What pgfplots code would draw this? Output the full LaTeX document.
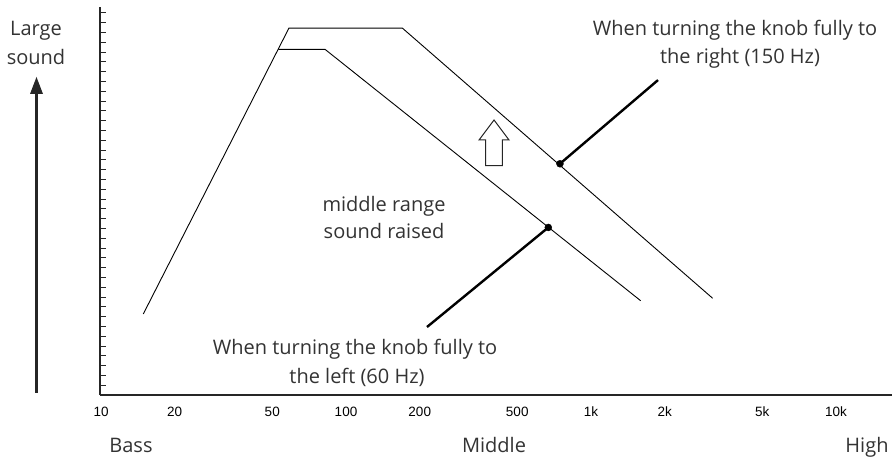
\documentclass[border=0pt]{standalone}
\usepackage{pgfplots}
\pgfplotsset{compat=1.18}
\usepackage{fontspec}
\setmainfont{Open Sans}
\newfontfamily\tickfamily{Liberation Sans}
\newcommand\tf{\fontsize{20}{24}\selectfont\color{black!80}}
\newcommand\tk{\tickfamily\fontsize{13.5}{16}\selectfont}
% place one line of text: centre x, baseline y (pixels from top)
\newcommand\lbl[3]{\node[anchor=base, inner sep=0pt, font=\tf] at (#1,464-#2) {#3};}
\begin{document}
\begin{tikzpicture}
\path[use as bounding box] (0pt,0pt) rectangle (895pt,464pt);
\begin{axis}[
    at={(100pt,69pt)}, anchor=south west,
    scale only axis, width=792pt, height=388pt,
    xmode=log, xmin=9.906, xmax=16930,
    ymin=0, ymax=39.6,
    axis x line=bottom, axis y line=left,
    axis line style={-, line width=1.3pt, black!85},
    xtick={10,20,50,100,200,500,1000,2000,5000,10000},
    xticklabels={10,20,50,100,200,500,1k,2k,5k,10k},
    minor xtick={},
    x tick style={draw=none},
    xticklabel style={font=\tk, anchor=base, inner sep=0pt, yshift=-21pt},
    ytick={1,...,39}, yticklabels={},
    y tick style={black!85, line width=0.8pt},
    tick align=inside, major tick length=6pt,
    clip=false,
]
% 150 Hz setting
\addplot[black, line width=0.9pt, no markers]
    coordinates {(14.88,8.27) (58.5,37.45) (169.8,37.45) (3138,9.87)};
% 60 Hz setting
\addplot[black, line width=0.9pt, no markers]
    coordinates {(53.0,35.28) (82.1,35.28) (1595,9.62)};
% pointers
\addplot[black, line width=2.4pt, no markers]
    coordinates {(747,23.6) (1877,32.14)};
\addplot[black, line width=2.4pt, no markers]
    coordinates {(669.4,17.1) (214.1,6.94)};
\addplot[only marks, mark=*, mark size=3.5pt, black]
    coordinates {(747,23.6) (669.4,17.1)};
\end{axis}
\begin{scope}[x=1pt,y=1pt]
% big arrow on the left
\draw[line width=3.5pt, black!85] (36.5,464-393) -- (36.5,464-92);
\fill[black!85] (30,464-94) -- (36.5,464-77) -- (43,464-94) -- cycle;
% hollow arrow
\draw[line width=1pt, black!85, fill=white]
    (494,464-120) -- (509,464-140) -- (502.3,464-140) -- (502.3,464-165.7)
    -- (485.7,464-165.7) -- (485.7,464-140) -- (479,464-140) -- cycle;
\lbl{36}{36}{Large}
\lbl{36}{65}{sound}
\lbl{735}{36}{When turning the knob fully to}
\lbl{740}{64}{the right (150 Hz)}
\lbl{384}{212}{middle range}
\lbl{384}{239}{sound raised}
\lbl{355}{355}{When turning the knob fully to}
\lbl{357}{383}{the left (60 Hz)}
\lbl{131}{452}{Bass}
\lbl{494}{452}{Middle}
\lbl{867}{452}{High}
\end{scope}
\end{tikzpicture}
\end{document}
